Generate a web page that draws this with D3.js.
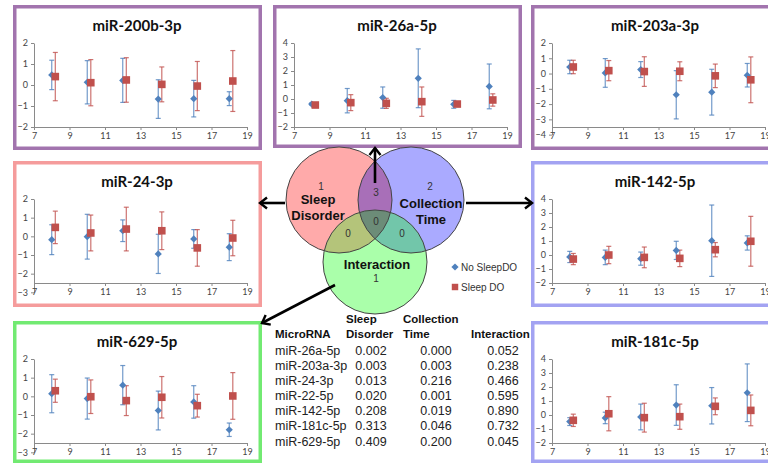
<!DOCTYPE html>
<meta charset="utf-8">
<style>
  body { margin: 0; background: #fff; overflow: hidden; }
  .tick text { font-family: Lato, "Liberation Sans", sans-serif; font-size: 9px; fill: #444; }
  .ptitle { font-family: Lato, "Liberation Sans", sans-serif; font-weight: bold; font-size: 15px; fill: #111; }
  .venn { font-family: "Liberation Sans", Arial, sans-serif; }
  .tbl { font-family: "Liberation Sans", Arial, sans-serif; font-size: 12.5px; fill: #222; }
</style>
<script src="https://d3js.org/d3.v7.min.js"></script>
<svg id="fig" width="768" height="465"></svg>
<script>

// ---- data ----
var panelNames = ["miR-200b-3p", "miR-26a-5p", "miR-203a-3p", "miR-24-3p", "miR-142-5p", "miR-629-5p", "miR-181c-5p"];
var timesNoDO = [8, 10, 12, 14, 16, 18];
var timesDO = [8.2, 10.2, 12.2, 14.2, 16.2, 18.2];
var xTicks = [7, 9, 11, 13, 15, 17, 19];
var yDomains = [[-2, 2], [-2, 4], [-4, 2], [-3, 2], [-2, 4], [-3, 2], [-2, 4]];
var axisCross = [-2, -2, -3.5, -2.5, -2, -2.5, -2];

var meanNoDO = [
  [0.48, 0.13, 0.22, -0.67, -0.65, -0.65],
  [-0.36, -0.12, 0.10, 1.48, -0.38, 0.90],
  [0.43, 0.04, 0.26, -1.39, -1.22, -0.11],
  [-0.18, -0.02, 0.30, -0.94, -0.14, -0.58],
  [-0.14, -0.17, -0.26, 0.33, 1.02, 0.86],
  [0.14, -0.12, 0.60, -0.76, -0.30, -1.79],
  [-0.47, -0.21, -0.14, 0.71, 0.66, 1.59]
];
var errNoDO = [
  [0.70, 1.03, 1.05, 0.92, 0.87, 0.33],
  [0.08, 0.87, 0.76, 2.10, 0.28, 1.60],
  [0.44, 0.94, 0.52, 1.58, 1.50, 0.77],
  [0.80, 1.20, 0.58, 1.05, 0.50, 0.72],
  [0.40, 0.52, 0.47, 0.65, 2.55, 0.51],
  [1.02, 1.10, 1.05, 1.04, 0.87, 0.36],
  [0.28, 0.41, 0.92, 1.45, 1.30, 2.06]
];
var meanDO = [
  [0.40, 0.11, 0.24, 0.03, -0.05, 0.19],
  [-0.43, -0.26, -0.31, -0.19, -0.36, -0.07],
  [0.43, 0.19, 0.13, 0.15, -0.15, -0.41],
  [0.48, 0.18, 0.39, 0.30, -0.62, -0.09],
  [-0.29, 0.00, -0.17, -0.24, 0.38, 0.98],
  [0.30, -0.02, -0.23, -0.05, -0.50, 0.02],
  [-0.38, 0.09, -0.19, -0.12, 0.62, 0.33]
];
var errDO = [
  [1.15, 1.10, 1.06, 0.83, 1.17, 1.45],
  [0.08, 0.57, 0.36, 1.05, 0.05, 0.44],
  [0.44, 0.66, 0.97, 0.62, 0.77, 1.50],
  [0.87, 0.96, 1.17, 1.01, 0.98, 0.95],
  [0.40, 0.62, 0.74, 0.59, 0.51, 1.78],
  [0.62, 0.90, 0.80, 1.11, 0.61, 1.25],
  [0.44, 1.22, 1.03, 0.90, 0.60, 1.10]
];

var seriesNames = ["No SleepDO", "Sleep DO"];

// Venn counts: sleep only, time only, interaction only, sleep&time, sleep&inter, time&inter, all
var vennSetNames = ["Sleep\nDisorder", "Collection\nTime", "Interaction"];
var vennCounts = [1, 2, 1, 3, 0, 0, 0];

// p-value table
var tableMirs = ["miR-26a-5p", "miR-203a-3p", "miR-24-3p", "miR-22-5p", "miR-142-5p", "miR-181c-5p", "miR-629-5p"];
var pSleep = [0.002, 0.003, 0.013, 0.020, 0.208, 0.313, 0.409];
var pTime = [0.000, 0.003, 0.216, 0.001, 0.019, 0.046, 0.200];
var pInter = [0.052, 0.238, 0.466, 0.595, 0.890, 0.732, 0.045];

// ---- layout ----
var svg = d3.select("#fig");
var purple = "#a274ae", pink = "#f59c9c", lav = "#a3a3f2", green = "#72ea72";
var boxes = [
  {x: 13, y: 5, h: 145, c: purple},
  {x: 273, y: 5, h: 143, c: purple},
  {x: 531, y: 5, h: 145, c: purple},
  {x: 13, y: 161, h: 146, c: pink},
  {x: 531, y: 161, h: 146, c: lav},
  {x: 13, y: 321, h: 142, c: green},
  {x: 531, y: 321, h: 142, c: lav}
];
var boxW = 249;
var blue = "#4f81bd", red = "#c0504d";
var diamond = "M0,-3.6L3.6,0L0,3.6L-3.6,0Z";
var square = "M-3.8,-3.8H3.8V3.8H-3.8Z";

panelNames.forEach(function(name, i) {
  var b = boxes[i];
  var g = svg.append("g");
  g.append("rect")
    .attr("x", b.x + 1.75).attr("y", b.y + 1.75)
    .attr("width", boxW - 3.5).attr("height", b.h - 3.5)
    .attr("fill", "#fff").attr("stroke", b.c).attr("stroke-width", 3.5);

  g.append("text").attr("class", "ptitle")
    .attr("x", b.x + 124).attr("y", b.y + 26)
    .attr("text-anchor", "middle").text(name);

  var top = b.y + 38, crossY = b.y + 122;
  var dom = yDomains[i];
  var k = (crossY - top) / (dom[1] - axisCross[i]);
  var y = d3.scaleLinear().domain(dom).range([crossY + (axisCross[i] - dom[0]) * k, top]);
  var x = d3.scaleLinear().domain([7, 19]).range([b.x + 21, b.x + 234]);

  var yAx = g.append("g").attr("transform", "translate(" + x(7) + ",0)")
    .call(d3.axisLeft(y).tickValues(d3.range(dom[0], dom[1] + 1)).tickSize(3).tickSizeOuter(0).tickPadding(3).tickFormat(d3.format("d")));
  var xAx = g.append("g").attr("transform", "translate(0," + y(axisCross[i]) + ")")
    .call(d3.axisBottom(x).tickValues(xTicks).tickSize(3).tickSizeOuter(0).tickPadding(3).tickFormat(d3.format("d")));
  [yAx, xAx].forEach(function(a) {
    a.select(".domain").attr("stroke", "#8a8a8a");
    a.selectAll(".tick line").attr("stroke", "#8a8a8a");
  });

  var series = [
    {t: timesNoDO, m: meanNoDO[i], e: errNoDO[i], col: blue, shape: diamond},
    {t: timesDO, m: meanDO[i], e: errDO[i], col: red, shape: square}
  ];
  series.forEach(function(s) {
    var pts = s.t.map(function(t, j) { return {x: t, m: s.m[j], e: s.e[j]}; });
    var eb = g.append("g").attr("stroke", s.col).attr("stroke-width", 1.2).attr("stroke-opacity", 0.8);
    eb.selectAll(".v").data(pts).join("line")
      .attr("x1", function(d) { return x(d.x); }).attr("x2", function(d) { return x(d.x); })
      .attr("y1", function(d) { return y(d.m - d.e); }).attr("y2", function(d) { return y(d.m + d.e); });
    [-1, 1].forEach(function(sg) {
      eb.selectAll(".c" + (sg + 1)).data(pts).join("line")
        .attr("x1", function(d) { return x(d.x) - 2.5; }).attr("x2", function(d) { return x(d.x) + 2.5; })
        .attr("y1", function(d) { return y(d.m + sg * d.e); }).attr("y2", function(d) { return y(d.m + sg * d.e); });
    });
  });
  series.forEach(function(s) {
    g.selectAll(null).data(s.t.map(function(t, j) { return {x: t, m: s.m[j]}; })).join("path")
      .attr("d", s.shape)
      .attr("transform", function(d) { return "translate(" + x(d.x) + "," + y(d.m) + ")"; })
      .attr("fill", s.col);
  });
});

// ---- Venn diagram ----
var circ = [{cx: 339, cy: 200, r: 53}, {cx: 411, cy: 200, r: 53}, {cx: 375, cy: 262, r: 52}];
var baseFill = ["#ffaaaa", "#aaaaff", "#aaffaa"];
var pairs = [[0, 1, "#a86fb8"], [0, 2, "#b4c47a"], [1, 2, "#72c6aa"]];
var tripleFill = "#6c8c78";
var defs = svg.append("defs");
circ.forEach(function(c, i) {
  defs.append("clipPath").attr("id", "cc" + i).append("circle")
    .attr("cx", c.cx).attr("cy", c.cy).attr("r", c.r);
});
var vg = svg.append("g").attr("class", "venn");
circ.forEach(function(c, i) {
  vg.append("circle").attr("cx", c.cx).attr("cy", c.cy).attr("r", c.r).attr("fill", baseFill[i]);
});
pairs.forEach(function(p) {
  var c = circ[p[1]];
  vg.append("g").attr("clip-path", "url(#cc" + p[0] + ")")
    .append("circle").attr("cx", c.cx).attr("cy", c.cy).attr("r", c.r).attr("fill", p[2]);
});
vg.append("g").attr("clip-path", "url(#cc0)").append("g").attr("clip-path", "url(#cc1)")
  .append("circle").attr("cx", circ[2].cx).attr("cy", circ[2].cy).attr("r", circ[2].r).attr("fill", tripleFill);
circ.forEach(function(c) {
  vg.append("circle").attr("cx", c.cx).attr("cy", c.cy).attr("r", c.r)
    .attr("fill", "none").attr("stroke", "#444").attr("stroke-width", 1);
});

// count labels: positions for each region
var countPos = [[321, 190], [430, 190], [376, 282], [376, 196], [348, 237], [402, 237], [376, 225]];
vg.selectAll(".cnt").data(vennCounts).join("text")
  .attr("x", function(d, i) { return countPos[i][0]; })
  .attr("y", function(d, i) { return countPos[i][1]; })
  .attr("text-anchor", "middle").attr("font-size", 10).attr("fill", "#333")
  .text(function(d) { return d; });

var setPos = [[318, 204], [431, 208], [377, 269]];
vennSetNames.forEach(function(nm, i) {
  var t = vg.append("text").attr("text-anchor", "middle").attr("font-size", 13)
    .attr("font-weight", "bold").attr("fill", "#111");
  nm.split("\n").forEach(function(line, j) {
    t.append("tspan").attr("x", setPos[i][0]).attr("y", setPos[i][1] + j * 15.5).text(line);
  });
});

// legend
var lg = svg.append("g").attr("class", "venn");
[diamond, square].forEach(function(shape, i) {
  lg.append("path").attr("d", shape)
    .attr("transform", "translate(455," + (267 + i * 20) + ") scale(" + (i ? 0.85 : 1) + ")")
    .attr("fill", i ? red : blue);
  lg.append("text").attr("x", 461).attr("y", 270.5 + i * 20)
    .attr("font-size", 10).attr("fill", "#333").text(seriesNames[i]);
});

// ---- arrows ----
defs.append("marker").attr("id", "arr")
  .attr("viewBox", "-10 -8 12 16").attr("markerUnits", "userSpaceOnUse")
  .attr("markerWidth", 12).attr("markerHeight", 16).attr("refX", 0).attr("refY", 0)
  .attr("orient", "auto")
  .append("path").attr("d", "M-7,-5.5L0,0L-7,5.5")
  .attr("fill", "none").attr("stroke", "#000").attr("stroke-width", 2.4);
var arrows = [
  [375, 183, 375, 148],
  [285, 203, 260, 203],
  [466, 203, 532, 203],
  [335, 285, 262, 323]
];
svg.append("g").selectAll("line").data(arrows).join("line")
  .attr("x1", function(d) { return d[0]; }).attr("y1", function(d) { return d[1]; })
  .attr("x2", function(d) { return d[2]; }).attr("y2", function(d) { return d[3]; })
  .attr("stroke", "#000").attr("stroke-width", 2.6)
  .attr("marker-end", "url(#arr)");

// ---- table ----
var tg = svg.append("g").attr("class", "tbl");
var f3 = d3.format(".3f");
var hdr = [
  ["Sleep", 346, 323], ["Collection", 403, 323],
  ["MicroRNA", 275, 338], ["Disorder", 346, 338],
  ["Time", 403, 338], ["Interaction", 471, 338]
];
tg.selectAll(".h").data(hdr).join("text")
  .attr("x", function(d) { return d[1]; }).attr("y", function(d) { return d[2]; })
  .attr("font-size", 11.5).attr("font-weight", "bold").attr("fill", "#111")
  .text(function(d) { return d[0]; });
var rowY = d3.scaleLinear().domain([0, 6]).range([355, 445.5]);
var cols = [[tableMirs, 275, "start"], [pSleep.map(f3), 371, "middle"], [pTime.map(f3), 436, "middle"], [pInter.map(f3), 503, "middle"]];
cols.forEach(function(c) {
  tg.append("g").selectAll("text").data(c[0]).join("text")
    .attr("x", c[1]).attr("y", function(d, i) { return rowY(i); })
    .attr("text-anchor", c[2]).text(function(d) { return d; });
});

</script>
